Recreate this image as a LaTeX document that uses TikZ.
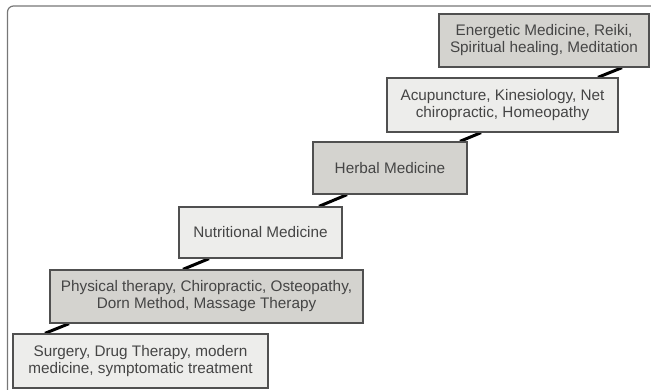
\documentclass[tikz,border=0pt]{standalone}
\usepackage{fontspec}
\setmainfont{Liberation Sans}
\usetikzlibrary{backgrounds}
\definecolor{darkfill}{HTML}{D4D3CF}
\definecolor{lightfill}{HTML}{EDEDEB}
\definecolor{edgecol}{HTML}{505050}
\definecolor{txtcol}{HTML}{454545}
\definecolor{framecol}{HTML}{777777}
\begin{document}
\begin{tikzpicture}[x=1pt,y=-1pt,
  box/.style={draw=edgecol, line width=1.3pt, inner sep=0pt, align=center,
    text=txtcol, font=\fontsize{15.3}{17}\selectfont},
  darkbox/.style={box, fill=darkfill},
  lightbox/.style={box, fill=lightfill},
  link/.style={line width=3pt, black},
  frameline/.style={draw=framecol, line width=1.2pt, rounded corners=6pt}]
\useasboundingbox (0,0) rectangle (651,390);
\clip (0,0) rectangle (651,390);
\draw[frameline] (7.5,420) -- (7.5,6) -- (680,6);

\node[lightbox, minimum width=255pt, minimum height=54pt] (surg) at (140.5,361)
  {Surgery, Drug Therapy, modern\\medicine, symptomatic treatment};
\node[darkbox, minimum width=313pt, minimum height=53pt] (phys) at (206.5,296.5)
  {Physical therapy, Chiropractic, Osteopathy,\\Dorn Method, Massage Therapy};
\node[lightbox, minimum width=163pt, minimum height=51pt] (nutr) at (260.5,232.5)
  {Nutritional Medicine};
\node[darkbox, minimum width=154pt, minimum height=52pt] (herb) at (390,168)
  {Herbal Medicine};
\node[lightbox, minimum width=231pt, minimum height=54pt] (acu) at (502.5,105)
  {Acupuncture, Kinesiology, Net\\chiropractic, Homeopathy};
\node[darkbox, minimum width=210pt, minimum height=53pt] (ener) at (544,40.5)
  {Energetic Medicine, Reiki,\\Spiritual healing, Meditation};

\begin{scope}[on background layer]
\draw[link] (surg.north -| 45,0) -- (phys.south -| 69,0);
\draw[link] (phys.north -| 183,0) -- (nutr.south -| 209,0);
\draw[link] (nutr.north -| 319,0) -- (herb.south -| 347,0);
\draw[link] (herb.north -| 460,0) -- (acu.south -| 481,0);
\draw[link] (acu.north -| 598,0) -- (ener.south -| 622,0);
\end{scope}
\end{tikzpicture}
\end{document}
